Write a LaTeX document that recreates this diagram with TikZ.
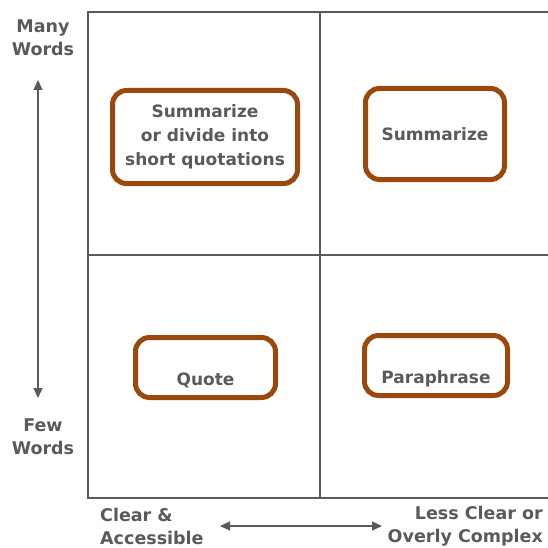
\documentclass[tikz,border=0pt]{standalone}
\usepackage{fontspec}
\setmainfont{DejaVu Sans}
\usetikzlibrary{arrows.meta}
\definecolor{boxbrown}{RGB}{155,72,12}
\definecolor{inkgray}{RGB}{90,90,90}

\tikzset{
    choice/.style={draw=boxbrown, line width=5pt, rounded corners=14pt,
        align=center, text=inkgray, font=\bfseries\fontsize{17}{24}\selectfont, inner sep=0pt},
    lowtext/.style={text height=35pt, text depth=0pt},
    axislabel/.style={text=inkgray, font=\bfseries\fontsize{17.5}{23}\selectfont, inner sep=0pt},
    gridline/.style={draw=inkgray, line width=1.5pt},
    axisarrow/.style={draw=inkgray, line width=1.3pt, {Triangle[length=10pt,width=9pt]}-{Triangle[length=10pt,width=9pt]}},
}

\begin{document}
\begin{tikzpicture}[x=1pt,y=-1pt]
    \useasboundingbox (0,0) rectangle (548,548);
    % quadrant grid
    \draw[gridline] (548,12) -- (88,12) -- (88,498) -- (548,498);
    \draw[gridline] (320,12) -- (320,498);
    \draw[gridline] (88,255) -- (548,255);

    % the four choices
    \node[choice, minimum width=185pt, minimum height=93pt] (manyclear) at (205,137)
        {Summarize\\or divide into\\short quotations};
    \node[choice, minimum width=139pt, minimum height=91pt] (manycomplex) at (435,134) {Summarize};
    \node[choice, lowtext, minimum width=140pt, minimum height=60pt] (fewclear) at (205.5,367.5) {Quote};
    \node[choice, lowtext, minimum width=143pt, minimum height=60pt] (fewcomplex) at (436,365.5) {Paraphrase};

    % vertical axis
    \node[axislabel, align=center] (many) at (43,38) {Many\\Words};
    \node[axislabel, align=center] (few) at (43,437) {Few\\Words};
    \coordinate (vtop) at (38,80);
    \coordinate (vbot) at (38,398);
    \draw[axisarrow] (vtop) -- (vbot);

    % horizontal axis
    \node[axislabel, align=left, anchor=west] (clear) at (100,526) {Clear \&\\Accessible};
    \node[axislabel, align=right, anchor=east] (complex) at (543,526) {Less Clear or\\Overly Complex};
    \coordinate (hleft) at (220,526);
    \coordinate (hright) at (382,526);
    \draw[axisarrow] (hleft) -- (hright);
\end{tikzpicture}
\end{document}
